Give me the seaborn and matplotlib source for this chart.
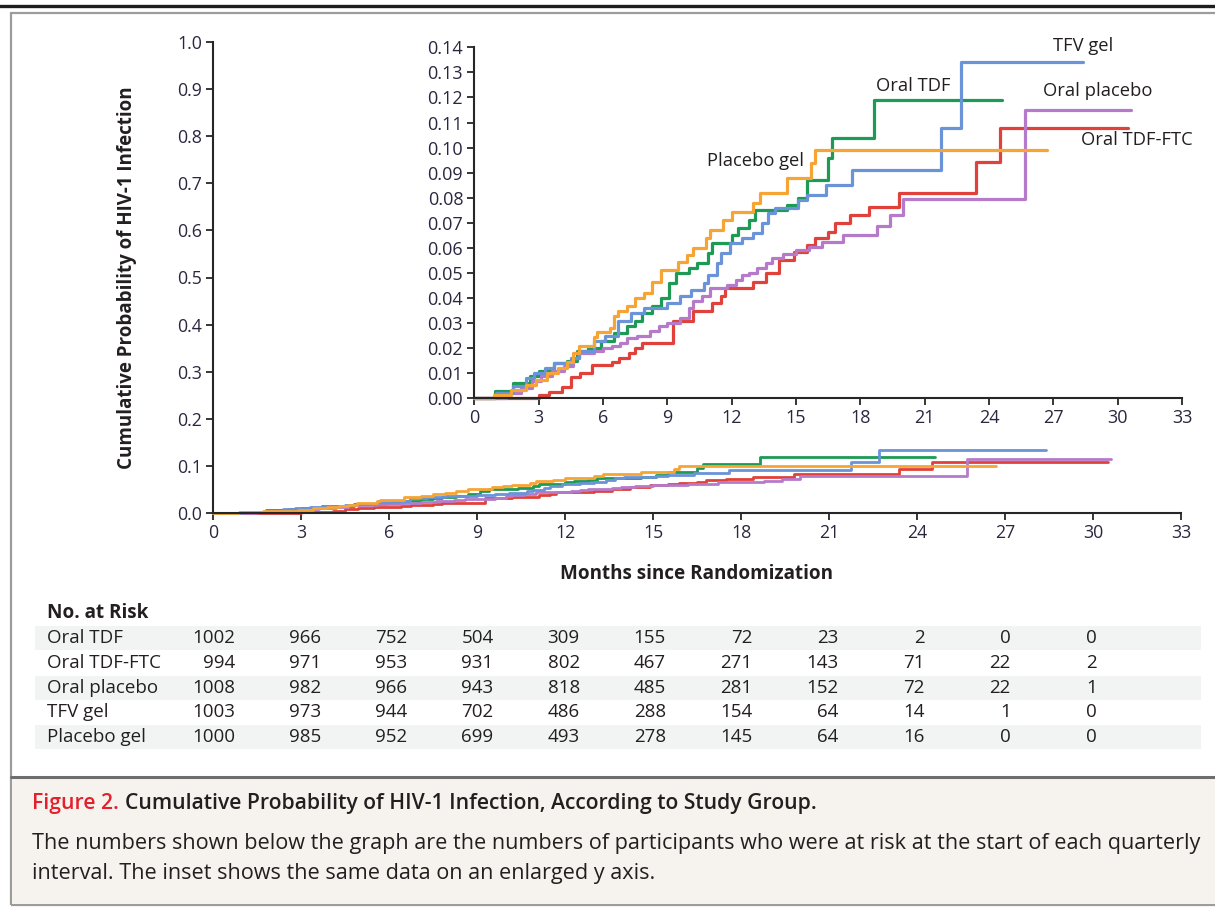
import numpy as np
import pandas as pd
import matplotlib
matplotlib.use("Agg")
import matplotlib.pyplot as plt
from matplotlib.patches import Rectangle
from matplotlib.lines import Line2D
from matplotlib.ticker import FormatStrFormatter
import seaborn as sns

# ---------------------------------------------------------------- data
groups = ["Oral TDF", "Oral TDF-FTC", "Oral placebo", "TFV gel", "Placebo gel"]
colors = ["#1d9b55", "#e0413a", "#b67acb", "#6a93d8", "#f6a535"]

# Kaplan-Meier step points: month of each step and cumulative probability after it
tdf_months = [0, 0.95, 1.8, 2.6, 3.0, 3.7, 4.3, 4.8, 5.3, 5.9, 6.5, 7.1, 7.5, 7.8,
              8.3, 8.7, 9.1, 9.4, 10.0, 10.4, 10.9, 11.1, 12.0, 12.3, 12.8, 13.1,
              14.6, 15.1, 15.5, 16.5, 16.7, 18.65, 24.6]
tdf_prob = [0, 0.003, 0.006, 0.009, 0.011, 0.014, 0.015, 0.019, 0.020, 0.023, 0.026,
            0.029, 0.031, 0.034, 0.037, 0.040, 0.046, 0.050, 0.052, 0.054, 0.058,
            0.062, 0.065, 0.068, 0.071, 0.075, 0.077, 0.080, 0.087, 0.096, 0.104,
            0.119, 0.119]

tdf_ftc_months = [0, 3.0, 3.5, 4.1, 4.5, 4.95, 5.5, 6.4, 6.75, 7.2, 7.5, 7.8, 9.26,
                  10.2, 11.1, 11.5, 11.7, 13.0, 13.6, 14.2, 14.9, 15.5, 15.9, 16.5,
                  16.8, 17.5, 18.4, 19.8, 23.4, 24.5, 30.5]
tdf_ftc_prob = [0, 0.0013, 0.0027, 0.0047, 0.0086, 0.010, 0.0133, 0.0146, 0.016,
                0.018, 0.020, 0.022, 0.031, 0.035, 0.038, 0.041, 0.044, 0.0465,
                0.050, 0.055, 0.0585, 0.061, 0.064, 0.0665, 0.070, 0.073, 0.0765,
                0.082, 0.0944, 0.108, 0.108]

oral_placebo_months = [0, 1.5, 2.2, 2.7, 3.1, 3.6, 4.2, 4.6, 4.9, 5.6, 6.0, 6.4, 6.8,
                       7.1, 7.6, 8.2, 8.6, 9.0, 9.6, 10.0, 10.2, 10.6, 11.0, 11.8,
                       12.2, 12.5, 12.8, 13.2, 13.6, 13.9, 14.4, 15.0, 15.6, 16.2,
                       17.2, 18.8, 19.4, 20.0, 25.7, 30.6]
oral_placebo_prob = [0, 0.002, 0.004, 0.007, 0.009, 0.011, 0.013, 0.016, 0.018,
                     0.019, 0.020, 0.021, 0.022, 0.024, 0.025, 0.027, 0.029, 0.030,
                     0.032, 0.036, 0.039, 0.041, 0.044, 0.045, 0.047, 0.049, 0.050,
                     0.052, 0.054, 0.056, 0.0575, 0.059, 0.0605, 0.0625, 0.065,
                     0.0688, 0.073, 0.0794, 0.115, 0.115]

tfv_gel_months = [0, 1.0, 1.8, 2.4, 2.8, 3.3, 3.7, 4.5, 4.9, 5.6, 6.1, 6.7, 7.3, 7.9,
                  9.0, 9.6, 10.1, 10.7, 10.9, 11.3, 11.5, 11.9, 12.5, 13.0, 13.4,
                  13.7, 14.0, 15.1, 15.5, 16.4, 17.6, 21.75, 22.7, 28.4]
tfv_gel_prob = [0, 0.002, 0.005, 0.008, 0.010, 0.012, 0.014, 0.016, 0.019, 0.023,
                0.025, 0.031, 0.034, 0.036, 0.038, 0.041, 0.043, 0.046, 0.049, 0.054,
                0.058, 0.062, 0.064, 0.066, 0.070, 0.074, 0.076, 0.079, 0.081, 0.085,
                0.091, 0.108, 0.134, 0.134]

placebo_gel_months = [0, 0.9, 1.7, 2.4, 2.9, 3.4, 3.9, 4.3, 4.6, 4.9, 5.6, 5.7, 6.35,
                      6.5, 6.7, 7.1, 7.5, 7.9, 8.3, 8.7, 9.5, 9.9, 10.2, 10.8, 11.0,
                      11.6, 12.0, 13.0, 13.3, 14.6, 15.7, 15.9, 26.7]
placebo_gel_prob = [0, 0.0013, 0.0033, 0.0053, 0.0073, 0.010, 0.012, 0.0146, 0.018,
                    0.021, 0.0246, 0.0266, 0.028, 0.033, 0.035, 0.037, 0.040, 0.042,
                    0.0465, 0.051, 0.0545, 0.057, 0.060, 0.064, 0.067, 0.071, 0.0744,
                    0.078, 0.082, 0.088, 0.094, 0.099, 0.099]

risk_months = [0, 3, 6, 9, 12, 15, 18, 21, 24, 27, 30]
risk_tdf = [1002, 966, 752, 504, 309, 155, 72, 23, 2, 0, 0]
risk_tdf_ftc = [994, 971, 953, 931, 802, 467, 271, 143, 71, 22, 2]
risk_oral_placebo = [1008, 982, 966, 943, 818, 485, 281, 152, 72, 22, 1]
risk_tfv_gel = [1003, 973, 944, 702, 486, 288, 154, 64, 14, 1, 0]
risk_placebo_gel = [1000, 985, 952, 699, 493, 278, 145, 64, 16, 0, 0]

x_ticks = list(range(0, 34, 3))
main_y_ticks = [i / 10 for i in range(11)]
inset_y_ticks = [i / 100 for i in range(15)]

curves = {
    "Oral TDF": (tdf_months, tdf_prob),
    "Oral TDF-FTC": (tdf_ftc_months, tdf_ftc_prob),
    "Oral placebo": (oral_placebo_months, oral_placebo_prob),
    "TFV gel": (tfv_gel_months, tfv_gel_prob),
    "Placebo gel": (placebo_gel_months, placebo_gel_prob),
}
risk = {
    "Oral TDF": risk_tdf,
    "Oral TDF-FTC": risk_tdf_ftc,
    "Oral placebo": risk_oral_placebo,
    "TFV gel": risk_tfv_gel,
    "Placebo gel": risk_placebo_gel,
}

df = pd.concat(
    [pd.DataFrame({"month": m, "prob": p, "group": g}) for g, (m, p) in curves.items()],
    ignore_index=True,
)
palette = dict(zip(groups, colors))

# ---------------------------------------------------------------- style
sns.set_style("ticks")
plt.rcParams["font.family"] = ["Open Sans", "DejaVu Sans"]
INK = "#231f20"
TICK_INK = "#2b2640"

W, H = 1215, 910
fig = plt.figure(figsize=(W / 100, H / 100), dpi=100)
fig.patch.set_facecolor("white")


def fx(x):
    return x / W


def fy(y):
    return 1 - y / H


# page furniture: top rule, frame, caption panel
fig.add_artist(Line2D([0, 1], [fy(5.5), fy(5.5)], color="#1e1e1e", lw=2.4,
                      transform=fig.transFigure))
fig.add_artist(Rectangle((fx(11), fy(905)), fx(1230) - fx(11), fy(13) - fy(905),
                         transform=fig.transFigure, facecolor="none",
                         edgecolor="#9c9c9c", lw=1.6))
fig.add_artist(Rectangle((fx(12), fy(904)), fx(1230) - fx(12), fy(777) - fy(904),
                         transform=fig.transFigure, facecolor="#f6f3ee",
                         edgecolor="none"))
fig.add_artist(Line2D([fx(11), 1], [fy(776.5), fy(776.5)], color="#6e6e6e", lw=2.2,
                      transform=fig.transFigure))


def style_axes(a, yticks, fmt, labelsize):
    sns.despine(ax=a)
    for s in ("left", "bottom"):
        a.spines[s].set_color("#262626")
        a.spines[s].set_linewidth(1.5)
    a.set_xticks(x_ticks)
    a.set_yticks(yticks)
    a.yaxis.set_major_formatter(FormatStrFormatter(fmt))
    a.tick_params(direction="out", length=5, width=1.3, color="#262626",
                  labelsize=labelsize, labelcolor=TICK_INK, pad=3)
    a.set_xlabel("")
    a.set_ylabel("")


# ---------------------------------------------------------------- main axes
ax = fig.add_axes([fx(213), fy(513), fx(1181) - fx(213), fy(42) - fy(513)])
sns.lineplot(data=df, x="month", y="prob", hue="group", hue_order=groups,
             palette=palette, drawstyle="steps-post", estimator=None, sort=False,
             legend=False, lw=2.0, ax=ax)
ax.set_xlim(0, 33)
ax.set_ylim(0, 1.0)
style_axes(ax, main_y_ticks, "%.1f", 12.8)
ax.set_ylabel("Cumulative Probability of HIV-1 Infection", fontsize=13.5,
              fontweight="bold", color=INK)
ax.yaxis.set_label_coords((137 - 213) / 968, 0.5)
ax.set_xlabel("Months since Randomization", fontsize=13.6, fontweight="bold",
              color=INK)
ax.xaxis.set_label_coords(0.5, -(564 - 513) / 471)

# ---------------------------------------------------------------- inset axes
axin = fig.add_axes([fx(474.3), fy(398.3), fx(1182) - fx(474.3), fy(47.3) - fy(398.3)])
axin.set_facecolor("white")
sns.lineplot(data=df, x="month", y="prob", hue="group", hue_order=groups,
             palette=palette, drawstyle="steps-post", estimator=None, sort=False,
             legend=False, lw=2.3, ax=axin)
axin.set_xlim(0, 33)
axin.set_ylim(0, 0.14)
style_axes(axin, inset_y_ticks, "%.2f", 13)
for a in (ax, axin):
    for ln in a.lines:
        ln.set_clip_on(False)

curve_labels = {
    "TFV gel": (27.0, 0.1405),
    "Oral TDF": (18.75, 0.1245),
    "Oral placebo": (26.5, 0.1225),
    "Oral TDF-FTC": (28.3, 0.1030),
    "Placebo gel": (10.85, 0.0945),
}
for g, (xm, yv) in curve_labels.items():
    axin.text(xm, yv, g, fontsize=13.2, color=INK, ha="left", va="center")

# ---------------------------------------------------------------- number at risk
row_y = [638, 663, 688, 712, 737]
for i, g in enumerate(groups):
    if i % 2 == 0:
        fig.add_artist(Rectangle((fx(35), fy(row_y[i] + 12)), fx(1201) - fx(35), 24 / H,
                                 transform=fig.transFigure, facecolor="#f2f4f4",
                                 edgecolor="none", zorder=0))
fig.text(fx(47), fy(613), "No. at Risk", fontsize=13.6, fontweight="bold", color=INK,
         ha="left", va="center")
for i, g in enumerate(groups):
    fig.text(fx(47), fy(row_y[i]), g, fontsize=13.5, color=INK, ha="left", va="center")
    for j, n in enumerate(risk[g]):
        fig.text(fx(235 + 86.2 * j), fy(row_y[i]), str(n), fontsize=13.5, color=INK,
                 ha="right", va="center")

# ---------------------------------------------------------------- caption
renderer = fig.canvas.get_renderer()
t1 = fig.text(fx(32), fy(804), "Figure 2.", fontsize=15.2, fontweight="semibold",
              color="#e3202b", ha="left", va="center")
x_after = t1.get_window_extent(renderer).x1
fig.text(x_after / W + 6 / W, fy(804),
         "Cumulative Probability of HIV-1 Infection, According to Study Group.",
         fontsize=15.2, fontweight="semibold", color=INK, ha="left", va="center")
fig.text(fx(32), fy(843), "The numbers shown below the graph are the numbers of "
         "participants who were at risk at the start of each quarterly",
         fontsize=15.6, color=INK, ha="left", va="center")
fig.text(fx(32), fy(873), "interval. The inset shows the same data on an enlarged y axis.",
         fontsize=15.6, color=INK, ha="left", va="center")

fig.savefig("out.png", dpi=100)
